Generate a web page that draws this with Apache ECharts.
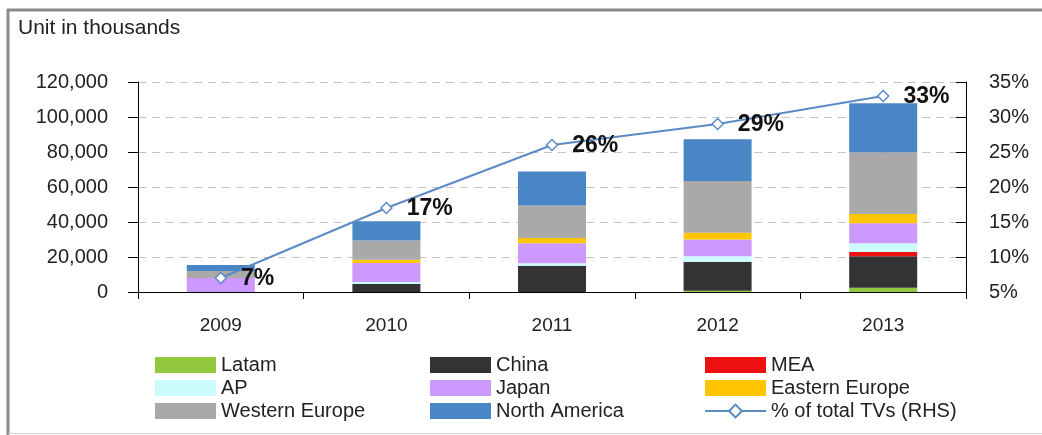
<!DOCTYPE html>
<html>
<head>
<meta charset="utf-8">
<script src="https://cdn.jsdelivr.net/npm/echarts@6/dist/echarts.min.js"></script>
<style>
  html, body { margin: 0; padding: 0; background: #fff; }
  #chart { width: 1042px; height: 435px; }
</style>
</head>
<body>
<div id="chart"></div>
<script>
const years = ['2009', '2010', '2011', '2012', '2013'];
const latam = [0, 0, 0, 700, 2400];
const china = [0, 4600, 15000, 16400, 18100];
const mea = [0, 0, 0, 0, 2300];
const ap = [0, 1100, 1500, 3400, 5100];
const japan = [8000, 10900, 11400, 9500, 11400];
const easternEurope = [0, 1900, 2900, 3800, 5300];
const westernEurope = [4000, 11000, 18700, 29700, 35200];
const northAmerica = [3400, 10900, 19400, 23800, 28000];
const shareOfTotal = [7, 17, 26, 29, 33];
const leftTicks = { min: 0, max: 120000, interval: 20000 };
const rightTicks = { min: 5, max: 35, interval: 5 };

const FONT = '"Liberation Sans", Arial, sans-serif';
const TXT = '#222';

const barSeries = [
  ['Latam', latam, '#92c83e'],
  ['China', china, '#333333'],
  ['MEA', mea, '#ee1111'],
  ['AP', ap, '#ccfbfb'],
  ['Japan', japan, '#cc99ff'],
  ['Eastern Europe', easternEurope, '#ffc600'],
  ['Western Europe', westernEurope, '#a9a9a9'],
  ['North America', northAmerica, '#4a86c5']
].map(([name, data, color]) => ({
  name, type: 'bar', stack: 'units', data, barWidth: 68,
  itemStyle: { color }, yAxisIndex: 0
}));

const lineColor = '#5b8bc5';
const lineSeries = {
  name: '% of total TVs (RHS)', type: 'line', yAxisIndex: 1, data: shareOfTotal,
  symbol: 'diamond', symbolSize: 11, z: 5,
  lineStyle: { color: lineColor, width: 2 },
  itemStyle: { color: '#fff', borderColor: lineColor, borderWidth: 1.5 },
  label: {
    show: true, position: 'right', distance: 14, offset: [0, 1],
    formatter: p => p.value + '%',
    fontFamily: FONT, fontSize: 23, fontWeight: 'bold', color: '#111'
  }
};

const legendBase = {
  orient: 'vertical', itemWidth: 61, itemHeight: 16, itemGap: 3, padding: 0,
  textStyle: { fontFamily: FONT, fontSize: 20, color: TXT, lineHeight: 20 }
};
const rectItem = n => ({ name: n, icon: 'rect', itemStyle: { borderWidth: 0 } });

const option = {
  animation: false,
  textStyle: { fontFamily: FONT },
  title: {
    text: 'Unit in thousands', left: 18, top: 18, padding: 0,
    textStyle: { fontFamily: FONT, fontSize: 21, fontWeight: 'normal', color: TXT }
  },
  graphic: [
    { type: 'line', shape: { x1: 7, y1: 10, x2: 1042, y2: 10 }, style: { stroke: '#8a8a8a', lineWidth: 3 } },
    { type: 'line', shape: { x1: 8, y1: 9, x2: 8, y2: 435 }, style: { stroke: '#8a8a8a', lineWidth: 3 } },
    { type: 'line', shape: { x1: 8, y1: 433.5, x2: 1042, y2: 433.5 }, style: { stroke: '#cfcfcf', lineWidth: 1 } }
  ],
  legend: [
    Object.assign({}, legendBase, { left: 155, top: 355, data: ['Latam', 'AP', 'Western Europe'].map(rectItem) }),
    Object.assign({}, legendBase, { left: 430, top: 355, data: ['China', 'Japan', 'North America'].map(rectItem) }),
    Object.assign({}, legendBase, { left: 704, top: 355, data: [rectItem('MEA'), rectItem('Eastern Europe'),
      { name: '% of total TVs (RHS)' }] })
  ],
  grid: { left: 138, right: 76, top: 82, bottom: 143 },
  xAxis: {
    type: 'category', data: years,
    axisLine: { lineStyle: { color: '#000', width: 1 } },
    axisTick: { show: true, alignWithLabel: false, length: 7, lineStyle: { color: '#000' } },
    axisLabel: { margin: 24, fontFamily: FONT, fontSize: 19, color: TXT }
  },
  yAxis: [
    {
      type: 'value', min: leftTicks.min, max: leftTicks.max, interval: leftTicks.interval,
      axisLine: { show: true, lineStyle: { color: '#000' } },
      axisTick: { show: true, length: 10, lineStyle: { color: '#000' } },
      splitLine: { show: true, lineStyle: { color: '#c4c4c4', type: [8, 6], width: 1 } },
      axisLabel: {
        margin: 30, fontFamily: FONT, fontSize: 20, color: TXT,
        formatter: v => v.toLocaleString('en-US')
      }
    },
    {
      type: 'value', min: rightTicks.min, max: rightTicks.max, interval: rightTicks.interval,
      position: 'right',
      axisLine: { show: true, lineStyle: { color: '#000' } },
      axisTick: { show: true, inside: true, length: 10, lineStyle: { color: '#000' } },
      splitLine: { show: false },
      axisLabel: { margin: 23, fontFamily: FONT, fontSize: 20, color: TXT, formatter: v => v + '%' }
    }
  ],
  series: barSeries.concat([lineSeries])
};

const chart = echarts.init(document.getElementById('chart'), null, { renderer: 'canvas' });
chart.setOption(option);
</script>
</body>
</html>
